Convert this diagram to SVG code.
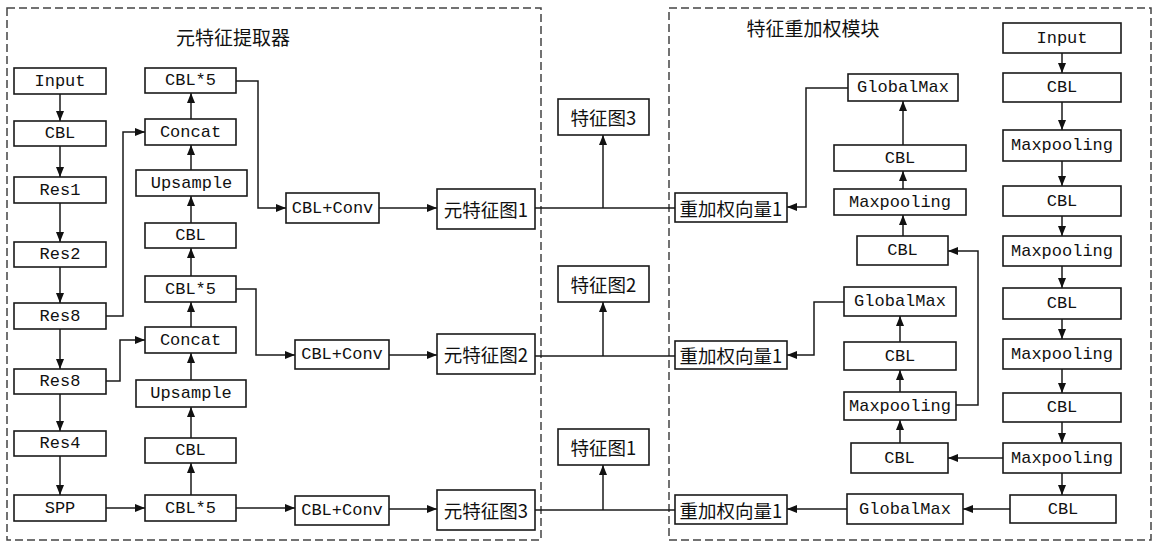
<svg xmlns="http://www.w3.org/2000/svg" width="1156" height="543" viewBox="0 0 1156 543">
<defs>
<style>
.frame{fill:none;stroke:#444;stroke-width:1.5;stroke-dasharray:8 4}
.box{fill:#fff;stroke:#1a1a1a;stroke-width:1.6}
.t{font-family:"Liberation Mono",monospace;font-size:17px;fill:#111;text-anchor:middle;dominant-baseline:central}
.c{font-family:"Noto Sans CJK SC",sans-serif;font-size:18.5px;fill:#111;text-anchor:middle;dominant-baseline:central}
.title{font-family:"Noto Sans CJK SC",sans-serif;font-size:19px;fill:#111;text-anchor:middle;dominant-baseline:central}
.ln{fill:none;stroke:#1a1a1a;stroke-width:1.5}
.ar{fill:none;stroke:#1a1a1a;stroke-width:1.5;marker-end:url(#ah)}
</style>
<marker id="ah" markerWidth="10" markerHeight="8" refX="10" refY="4" orient="auto" markerUnits="userSpaceOnUse"><path d="M0,0 L10,4 L0,8 z" fill="#111"/></marker>
</defs>
<rect width="1156" height="543" fill="#fff"/>
<g id="frames">
<rect class="frame" x="7" y="8" width="534" height="532"/>
<rect class="frame" x="669" y="8" width="482" height="532"/>
<text class="title" x="233" y="36">元特征提取器</text>
<text class="title" x="813" y="27">特征重加权模块</text>
</g>
<g id="connectors">
<path class="ar" d="M60,94V121"/>
<path class="ar" d="M60,146V177"/>
<path class="ar" d="M60,203V242"/>
<path class="ar" d="M60,267V303"/>
<path class="ar" d="M60,329V369"/>
<path class="ar" d="M60,394V431"/>
<path class="ar" d="M60,456V495"/>
<path class="ar" d="M191,495V463"/>
<path class="ar" d="M191,438V407"/>
<path class="ar" d="M191,380V353"/>
<path class="ar" d="M191,327V302"/>
<path class="ar" d="M191,276V248"/>
<path class="ar" d="M191,223V196"/>
<path class="ar" d="M191,170V145"/>
<path class="ar" d="M191,119V93"/>
<path class="ar" d="M106,508H145"/>
<path class="ar" d="M236,508H295"/>
<path class="ar" d="M106,316H123V132H145"/>
<path class="ar" d="M106,381H120V340H145"/>
<path class="ar" d="M236,81H258V208H286"/>
<path class="ar" d="M236,289H256V355H295"/>
<path class="ar" d="M379,208H437"/>
<path class="ar" d="M389,355H437"/>
<path class="ar" d="M389,509H437"/>
<path class="ln" d="M535,208H675"/>
<path class="ar" d="M603,208V135"/>
<path class="ln" d="M535,356H675"/>
<path class="ar" d="M603,356V302"/>
<path class="ln" d="M535,510H675"/>
<path class="ar" d="M603,510V465"/>
<path class="ar" d="M848,88H806V207H787"/>
<path class="ar" d="M844,302H814V355H787"/>
<path class="ar" d="M847,509H787"/>
<path class="ar" d="M903,236V215"/>
<path class="ar" d="M903,189V171"/>
<path class="ar" d="M903,145V101"/>
<path class="ar" d="M900,443V420"/>
<path class="ar" d="M900,392V370"/>
<path class="ar" d="M900,342V316"/>
<path class="ar" d="M956,405H978V251H948"/>
<path class="ar" d="M1062,53V73"/>
<path class="ar" d="M1062,102V130"/>
<path class="ar" d="M1062,161V186"/>
<path class="ar" d="M1062,216V236"/>
<path class="ar" d="M1062,266V288"/>
<path class="ar" d="M1062,319V339"/>
<path class="ar" d="M1062,369V393"/>
<path class="ar" d="M1062,422V443"/>
<path class="ar" d="M1062,473V495"/>
<path class="ar" d="M1003,458H948"/>
<path class="ar" d="M1010,509H963"/>
</g>
<g id="n_input"><rect class="box" x="14" y="68" width="92" height="26"/><text class="t" x="60" y="81">Input</text></g>
<g id="n_cbl_l"><rect class="box" x="14" y="121" width="92" height="25"/><text class="t" x="60" y="133.5">CBL</text></g>
<g id="n_res1"><rect class="box" x="14" y="177" width="92" height="26"/><text class="t" x="60" y="190">Res1</text></g>
<g id="n_res2"><rect class="box" x="14" y="242" width="92" height="25"/><text class="t" x="60" y="254.5">Res2</text></g>
<g id="n_res8a"><rect class="box" x="14" y="303" width="92" height="26"/><text class="t" x="60" y="316">Res8</text></g>
<g id="n_res8b"><rect class="box" x="14" y="369" width="92" height="25"/><text class="t" x="60" y="381.5">Res8</text></g>
<g id="n_res4"><rect class="box" x="14" y="431" width="92" height="25"/><text class="t" x="60" y="443.5">Res4</text></g>
<g id="n_spp"><rect class="box" x="14" y="495" width="92" height="26"/><text class="t" x="60" y="508">SPP</text></g>
<g id="n_cbl5a"><rect class="box" x="145" y="68" width="91" height="25"/><text class="t" x="190.5" y="80.5">CBL*5</text></g>
<g id="n_concat1"><rect class="box" x="145" y="119" width="91" height="26"/><text class="t" x="190.5" y="132">Concat</text></g>
<g id="n_up1"><rect class="box" x="136" y="170" width="111" height="26"/><text class="t" x="191.5" y="183">Upsample</text></g>
<g id="n_cbl_m1"><rect class="box" x="145" y="223" width="91" height="25"/><text class="t" x="190.5" y="235.5">CBL</text></g>
<g id="n_cbl5b"><rect class="box" x="145" y="276" width="91" height="26"/><text class="t" x="190.5" y="289">CBL*5</text></g>
<g id="n_concat2"><rect class="box" x="145" y="327" width="91" height="26"/><text class="t" x="190.5" y="340">Concat</text></g>
<g id="n_up2"><rect class="box" x="136" y="380" width="110" height="27"/><text class="t" x="191" y="393.5">Upsample</text></g>
<g id="n_cbl_m2"><rect class="box" x="145" y="438" width="91" height="25"/><text class="t" x="190.5" y="450.5">CBL</text></g>
<g id="n_cbl5c"><rect class="box" x="145" y="495" width="91" height="26"/><text class="t" x="190.5" y="508">CBL*5</text></g>
<g id="n_cc1"><rect class="box" x="286" y="193" width="93" height="30"/><text class="t" x="332.5" y="208">CBL+Conv</text></g>
<g id="n_cc2"><rect class="box" x="295" y="340" width="94" height="29"/><text class="t" x="342" y="354.5">CBL+Conv</text></g>
<g id="n_cc3"><rect class="box" x="295" y="496" width="94" height="29"/><text class="t" x="342" y="510.5">CBL+Conv</text></g>
<g id="n_mf1"><rect class="box" x="437" y="189" width="98" height="40"/><text class="c" x="486" y="209">元特征图1</text></g>
<g id="n_mf2"><rect class="box" x="437" y="334" width="98" height="40"/><text class="c" x="486" y="354">元特征图2</text></g>
<g id="n_mf3"><rect class="box" x="437" y="490" width="98" height="40"/><text class="c" x="486" y="510">元特征图3</text></g>
<g id="n_f3"><rect class="box" x="558" y="99" width="91" height="36"/><text class="c" x="603.5" y="117">特征图3</text></g>
<g id="n_f2"><rect class="box" x="558" y="266" width="91" height="36"/><text class="c" x="603.5" y="284">特征图2</text></g>
<g id="n_f1"><rect class="box" x="558" y="429" width="91" height="36"/><text class="c" x="603.5" y="447">特征图1</text></g>
<g id="n_rw1"><rect class="box" x="675" y="193" width="112" height="29"/><text class="c" x="731" y="207.5">重加权向量1</text></g>
<g id="n_rw2"><rect class="box" x="675" y="341" width="112" height="28"/><text class="c" x="731" y="355">重加权向量1</text></g>
<g id="n_rw3"><rect class="box" x="675" y="495" width="112" height="29"/><text class="c" x="731" y="509.5">重加权向量1</text></g>
<g id="n_gm1"><rect class="box" x="848" y="74" width="110" height="27"/><text class="t" x="903" y="87.5">GlobalMax</text></g>
<g id="n_cbl_r1"><rect class="box" x="834" y="145" width="132" height="26"/><text class="t" x="900" y="158">CBL</text></g>
<g id="n_mp_r1"><rect class="box" x="834" y="189" width="132" height="26"/><text class="t" x="900" y="202">Maxpooling</text></g>
<g id="n_cbl_r2"><rect class="box" x="857" y="236" width="91" height="29"/><text class="t" x="902.5" y="250.5">CBL</text></g>
<g id="n_gm2"><rect class="box" x="844" y="287" width="112" height="29"/><text class="t" x="900" y="301.5">GlobalMax</text></g>
<g id="n_cbl_r3"><rect class="box" x="844" y="342" width="112" height="28"/><text class="t" x="900" y="356">CBL</text></g>
<g id="n_mp_r2"><rect class="box" x="844" y="392" width="112" height="28"/><text class="t" x="900" y="406">Maxpooling</text></g>
<g id="n_cbl_r4"><rect class="box" x="851" y="443" width="97" height="30"/><text class="t" x="899.5" y="458">CBL</text></g>
<g id="n_gm3"><rect class="box" x="847" y="494" width="116" height="30"/><text class="t" x="905" y="509">GlobalMax</text></g>
<g id="n_input_r"><rect class="box" x="1003" y="23" width="118" height="30"/><text class="t" x="1062" y="38">Input</text></g>
<g id="n_c1"><rect class="box" x="1003" y="73" width="118" height="29"/><text class="t" x="1062" y="87.5">CBL</text></g>
<g id="n_m1"><rect class="box" x="1003" y="130" width="118" height="31"/><text class="t" x="1062" y="145.5">Maxpooling</text></g>
<g id="n_c2"><rect class="box" x="1003" y="186" width="118" height="30"/><text class="t" x="1062" y="201">CBL</text></g>
<g id="n_m2"><rect class="box" x="1003" y="236" width="118" height="30"/><text class="t" x="1062" y="251">Maxpooling</text></g>
<g id="n_c3"><rect class="box" x="1003" y="288" width="118" height="31"/><text class="t" x="1062" y="303.5">CBL</text></g>
<g id="n_m3"><rect class="box" x="1003" y="339" width="118" height="30"/><text class="t" x="1062" y="354">Maxpooling</text></g>
<g id="n_c4"><rect class="box" x="1003" y="393" width="118" height="29"/><text class="t" x="1062" y="407.5">CBL</text></g>
<g id="n_m4"><rect class="box" x="1003" y="443" width="118" height="30"/><text class="t" x="1062" y="458">Maxpooling</text></g>
<g id="n_c5"><rect class="box" x="1010" y="495" width="106" height="28"/><text class="t" x="1063" y="509">CBL</text></g>
</svg>
